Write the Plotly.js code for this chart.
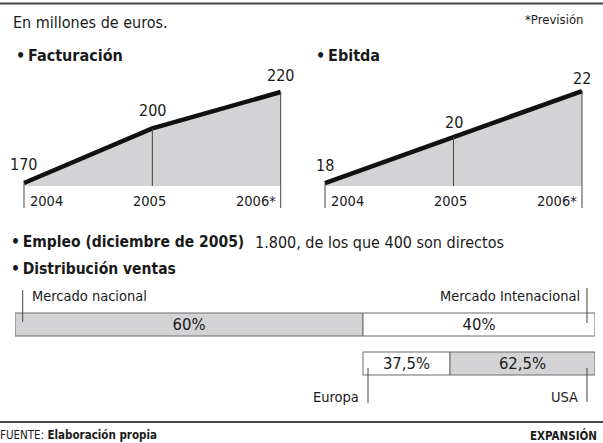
<!DOCTYPE html>
<html>
<head>
<meta charset="utf-8">
<script src="https://cdn.plot.ly/plotly-3.0.1.min.js"></script>
<style>
html,body{margin:0;padding:0;background:#fff;}
#chart{width:603px;height:443px;}
</style>
</head>
<body>
<div id="chart"></div>
<script>
// ---- data ----
const years = [2004, 2005, 2006];
const yearLabels = ['2004', '2005', '2006*'];
const facturacion = [170, 200, 220];
const ebitda = [18, 20, 22];
const mercadoNacional = 60;
const mercadoInternacional = 40;
const europa = 37.5;
const usa = 62.5;

// ---- helpers / styles ----
const W = 603, H = 443;
const px = x => x / W;
const py = y => 1 - y / H;
const FONT = "'Liberation Sans Narrow', 'DejaVu Sans Condensed', sans-serif";
const INK = '#1a1a1a';
const GRAY = '#d3d3d5';
const pct = v => String(v).replace('.', ',') + '%';
const BUL = '•\u2009';

const yPad = 0.03;
const L = {x0: 24, x1: 280.7, top: 60, bottom: 186, vmin: 168.35, pxPerUnit: 1.82};
const R = {x0: 325, x1: 582, top: 60, bottom: 186, vmin: 17.87, pxPerUnit: 23};
function xDomain(g) {
  const pyr = (g.x1 - g.x0) / 2;
  return [px(g.x0 - yPad * pyr), px(g.x1 + yPad * pyr)];
}
function yRange(g) { return [g.vmin, g.vmin + (g.bottom - g.top) / g.pxPerUnit]; }

const traces = [
  {x: years, y: facturacion, xaxis: 'x', yaxis: 'y', type: 'scatter', mode: 'lines',
   line: {color: '#111', width: 4.5}, fill: 'tozeroy', fillcolor: GRAY, hoverinfo: 'skip'},
  {x: years, y: ebitda, xaxis: 'x2', yaxis: 'y2', type: 'scatter', mode: 'lines',
   line: {color: '#111', width: 4.5}, fill: 'tozeroy', fillcolor: GRAY, hoverinfo: 'skip'}
];

// distribution bars
const eurW = mercadoInternacional * europa / 100;
const usaW = mercadoInternacional * usa / 100;
const barCommon = {type: 'bar', orientation: 'h', xaxis: 'x3', yaxis: 'y3', width: 0.59,
  textposition: 'inside', insidetextanchor: 'middle', textangle: 0, constraintext: 'none',
  textfont: {family: FONT, size: 16.5, color: INK}, hoverinfo: 'skip'};
const bl = {color: '#6a6a6a', width: 1};
traces.push(Object.assign({}, barCommon, {y: [1], x: [mercadoNacional], base: [0], text: [pct(mercadoNacional)],
  marker: {color: GRAY, line: bl}}));
traces.push(Object.assign({}, barCommon, {y: [1], x: [mercadoInternacional], base: [mercadoNacional], text: [pct(mercadoInternacional)],
  marker: {color: '#fff', line: bl}}));
traces.push(Object.assign({}, barCommon, {y: [0], x: [eurW], base: [mercadoNacional], text: [pct(europa)],
  marker: {color: '#fff', line: bl}}));
traces.push(Object.assign({}, barCommon, {y: [0], x: [usaW], base: [mercadoNacional + eurW], text: [pct(usa)],
  marker: {color: GRAY, line: bl}}));

const hidden = {visible: false, showgrid: false, zeroline: false, fixedrange: true};
const shapes = [];
const annotations = [];
const lineStyle = {color: '#444', width: 1};

function chartDeco(xa, ya, vals, g, shifts) {
  const yr = yRange(g);
  years.forEach((yv, i) => {
    shapes.push({type: 'line', xref: xa, yref: ya, x0: yv, x1: yv, y0: vals[i], y1: yr[0], line: lineStyle, layer: 'above'});
    if (i !== 1) {
      shapes.push({type: 'line', xref: xa, yref: 'paper', x0: yv, x1: yv, y0: py(g.bottom), y1: py(208), line: lineStyle});
    }
    annotations.push({xref: xa, yref: ya, x: yv, y: vals[i], text: String(vals[i]), showarrow: false,
      xanchor: 'center', yanchor: 'bottom', yshift: shifts[i], font: {family: FONT, size: 16, color: INK}});
    const anchors = ['left', 'center', 'right'];
    const xs = [4, -3, -3];
    annotations.push({xref: xa, yref: 'paper', x: yv, y: py(201), text: yearLabels[i], showarrow: false,
      xanchor: anchors[i], yanchor: 'middle', xshift: xs[i], font: {family: FONT, size: 14.5, color: INK}});
  });
}
chartDeco('x', 'y', facturacion, L, [7, 6, 5]);
chartDeco('x2', 'y2', ebitda, R, [6, 3, 1]);

function txt(x, y, text, size, anchor, bold) {
  annotations.push({xref: 'paper', yref: 'paper', x: px(x), y: py(y), text: text, showarrow: false,
    xanchor: anchor || 'left', yanchor: 'middle',
    font: {family: FONT, size: size, color: INK, weight: bold ? 'bold' : 'normal'}});
}
txt(11, 22, 'En millones de euros.', 16);
txt(585, 20, '*Previsión', 13, 'right');
txt(14, 55, BUL + 'Facturación', 16, 'left', true);
txt(314, 55, BUL + 'Ebitda', 16, 'left', true);
txt(9, 242, BUL + 'Empleo (diciembre de 2005)', 15.5, 'left', true);
txt(253, 242, '1.800, de los que 400 son directos', 16);
txt(9, 269, BUL + 'Distribución ventas', 15.5, 'left', true);
txt(30, 296, 'Mercado nacional', 14.5);
txt(582, 296, 'Mercado Intenacional', 14.5, 'right');
txt(361, 397, 'Europa', 14.5, 'right');
txt(580, 397, 'USA', 14.5, 'right');
txt(-2, 435, 'FUENTE: <b>Elaboración propia</b>', 11.5);
txt(599, 435, '<b>EXPANSIÓN</b>', 11.5, 'right');

// leader lines & rules
const pl = (x0, y0, x1, y1, c, w) => shapes.push({type: 'line', xref: 'paper', yref: 'paper',
  x0: px(x0), x1: px(x1), y0: py(y0), y1: py(y1), line: {color: c || '#444', width: w || 1}});
pl(22.7, 290, 22.7, 322);
pl(587, 288, 587, 323);
pl(368, 368, 368, 403);
pl(587, 368, 587, 402);
pl(0, 3.5, W, 3.5, '#444', 2);
pl(0, 422, W, 422, '#444', 2);

const layout = {
  width: W, height: H,
  margin: {l: 0, r: 0, t: 0, b: 0},
  paper_bgcolor: '#fff', plot_bgcolor: 'rgba(0,0,0,0)',
  showlegend: false,
  barmode: 'overlay',
  font: {family: FONT, color: INK},
  xaxis: Object.assign({}, hidden, {domain: xDomain(L), range: [2004 - yPad, 2006 + yPad]}),
  yaxis: Object.assign({}, hidden, {domain: [py(L.bottom), py(L.top)], range: yRange(L)}),
  xaxis2: Object.assign({}, hidden, {domain: xDomain(R), range: [2004 - yPad, 2006 + yPad], anchor: 'y2'}),
  yaxis2: Object.assign({}, hidden, {domain: [py(R.bottom), py(R.top)], range: yRange(R), anchor: 'x2'}),
  xaxis3: Object.assign({}, hidden, {domain: [px(15), px(595)], range: [0, 100], anchor: 'y3'}),
  yaxis3: Object.assign({}, hidden, {domain: [py(383), py(305)], range: [-0.5, 1.5], anchor: 'x3'}),
  shapes: shapes,
  annotations: annotations
};

Plotly.newPlot('chart', traces, layout, {staticPlot: true, displayModeBar: false});
</script>
</body>
</html>
